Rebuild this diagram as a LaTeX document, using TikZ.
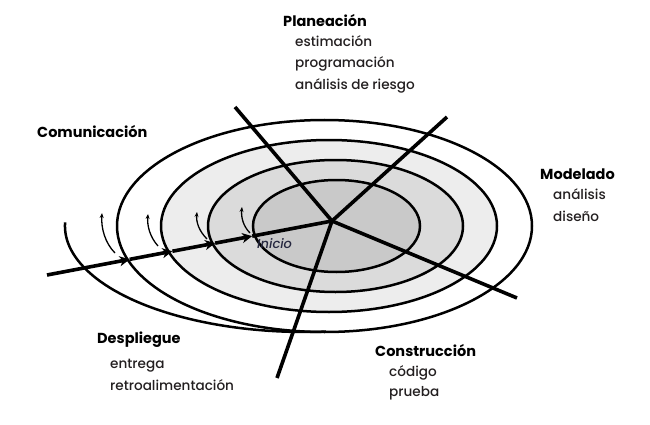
\documentclass[tikz,border=0pt]{standalone}
\usepackage{fontspec}
\setmainfont{Poppins}[UprightFont={Poppins Medium}, BoldFont={Poppins Bold}, ItalicFont={Poppins Medium Italic}]
\usepackage{xcolor}
\usepackage{tikz}
\usetikzlibrary{arrows.meta,calc}
\definecolor{ringlight}{RGB}{237,237,237}
\definecolor{ringmid}{RGB}{219,219,219}
\definecolor{ringdark}{RGB}{201,201,201}
\definecolor{textgray}{RGB}{35,31,32}
\definecolor{startblue}{RGB}{38,40,64}

\begin{document}
\begin{tikzpicture}[x=1pt, y=-1pt,
    ring/.style={line width=2.5pt},
    spoke/.style={line width=3.6pt},
    onward/.style={spoke, -{Stealth[length=10pt,width=10pt,inset=3pt]}},
    turn/.style={line width=1.3pt, -{Stealth[length=5pt,width=4pt]}},
    title/.style={anchor=base west, inner sep=0pt, font=\fontsize{14.5}{17}\selectfont\bfseries},
    item/.style={anchor=base west, inner sep=0pt, text=textgray, font=\fontsize{13.6}{17}\selectfont}]
    \useasboundingbox (0,0) rectangle (650,425);

    % rings
    \draw[ring, fill=white] (324.5,226) ellipse [x radius=207.5, y radius=106];
    \draw[ring, fill=ringlight] (329,226) ellipse [x radius=168, y radius=86];
    \draw[ring, fill=ringmid] (335.5,226) ellipse [x radius=127.5, y radius=66];
    \draw[ring, fill=ringdark] (336.5,226) ellipse [x radius=83.5, y radius=46];
    \draw[ring] (65.1,222.3) arc [start angle=182, end angle=85, x radius=240, y radius=106];

    % spokes
    \coordinate (hub) at (332,221);
    \coordinate (planend) at (235,107);
    \coordinate (modend) at (447,117);
    \coordinate (consend) at (517,298);
    \coordinate (despend) at (277,378);
    \coordinate (start) at (47,275);
    \draw[spoke] (hub) -- (planend);
    \draw[spoke] (hub) -- (modend);
    \draw[spoke] (hub) -- (consend);
    \draw[spoke] (hub) -- (despend);

    % start line, one tip per ring
    \coordinate (tip1) at ($(start)!0.29!(hub)$);
    \coordinate (tip2) at ($(start)!0.44!(hub)$);
    \coordinate (tip3) at ($(start)!0.59!(hub)$);
    \coordinate (tip4) at ($(start)!0.72!(hub)$);
    \draw[onward] (start) -- (tip1);
    \draw[onward] (tip1) -- (tip2);
    \draw[onward] (tip2) -- (tip3);
    \draw[onward] (tip3) -- (tip4);
    \draw[spoke] (tip4) -- (hub);

    % turns
    \draw[turn] (115,253) .. controls (105,243) and (101,228) .. (102,213);
    \draw[turn] (158,246) .. controls (150,237) and (147,226) .. (148,214);
    \draw[turn] (207,239) .. controls (199,231) and (196,222) .. (197,212);
    \draw[turn] (250,233) .. controls (243,226) and (241,217) .. (242,207);

    % labels
    \node[item, text=startblue, font=\fontsize{13}{15}\selectfont\itshape] (inicio) at (257,248) {Inicio};

    \node[title] (plan) at (283,27) {Planeación};
    \node[item] (plan1) at (295,47) {estimación};
    \node[item] (plan2) at (295,68) {programación};
    \node[item] (plan3) at (295,90) {análisis de riesgo};

    \node[title] (comu) at (37,137) {Comunicación};

    \node[title] (mod) at (540,179) {Modelado};
    \node[item] (mod1) at (553,199) {análisis};
    \node[item] (mod2) at (553,221) {diseño};

    \node[title] (desp) at (97,343) {Despliegue};
    \node[item] (desp1) at (110,368) {entrega};
    \node[item] (desp2) at (110,390) {retroalimentación};

    \node[title] (cons) at (375,356) {Construcción};
    \node[item] (cons1) at (389,376) {código};
    \node[item] (cons2) at (389,396) {prueba};
\end{tikzpicture}
\end{document}
